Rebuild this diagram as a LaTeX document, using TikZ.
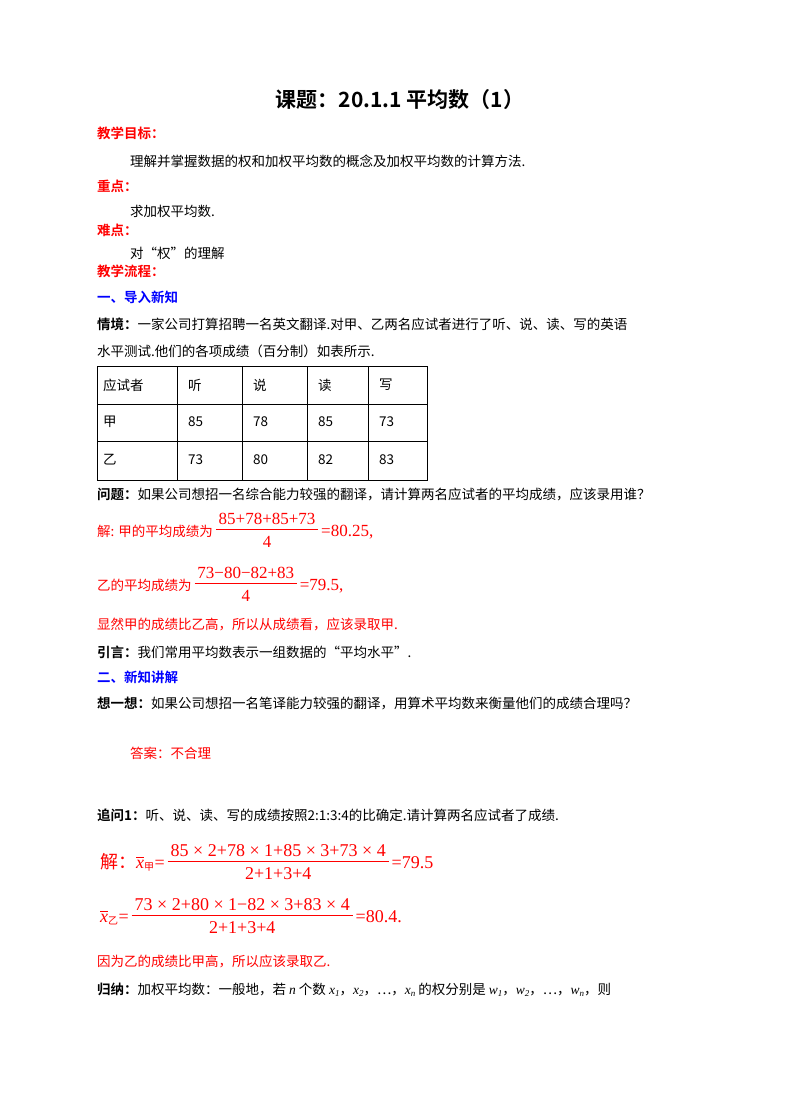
\documentclass[tikz,border=0pt]{standalone}
\usepackage{fontspec}
\setmainfont{Noto Sans CJK SC}[BoldFont={Noto Sans CJK SC Bold}]
\newfontfamily\ser{Liberation Serif}
\usepackage{amsmath}
\newcommand{\fr}[2]{\ensuremath{\,\vcenter{\hbox{\begin{tabular}{@{\,}c@{\,}}\ser #1\\[-1pt]\hline\rule{0pt}{18pt}\ser #2\end{tabular}}}\,}}
\newcommand{\vx}[1]{\ensuremath{\overline{\text{\ser\itshape x}}_{\text{\fontsize{10}{11}\selectfont #1}}}}
\newcommand{\vi}[2]{{\ser\itshape #1}\raisebox{-2pt}{\fontsize{9}{10}\selectfont\ser\itshape #2}}
\begin{document}
\begin{tikzpicture}[x=1pt,y=-1pt,
  t/.style={anchor=west,inner sep=0pt,font=\fontsize{13.5}{16}\selectfont},
  rd/.style={t,text=red},
  bl/.style={t,text=blue,font=\fontsize{13.5}{16}\selectfont\bfseries},
  hd/.style={t,text=red,font=\fontsize{13.5}{16}\selectfont\bfseries},
  cell/.style={t}]
\useasboundingbox (0,0) rectangle (800,1109);
\fill[white] (0,0) rectangle (800,1109);
\node[font=\fontsize{21}{24}\selectfont\bfseries] (title) at (400,100) {课题：20.1.1 平均数（1）};
\node[hd] (h1) at (97,133) {教学目标：};
\node[t] (l1) at (130,161) {理解并掌握数据的权和加权平均数的概念及加权平均数的计算方法.};
\node[hd] (h2) at (97,186) {重点：};
\node[t] (l2) at (130,211) {求加权平均数.};
\node[hd] (h3) at (97,230) {难点：};
\node[t] (l3) at (130,253) {对“权”的理解};
\node[hd] (h4) at (97,271) {教学流程：};
\node[bl] (s1) at (97,297) {一、导入新知};
\node[t] (q1) at (97,324) {\textbf{情境：}一家公司打算招聘一名英文翻译.对甲、乙两名应试者进行了听、说、读、写的英语};
\node[t] (q2) at (97,351) {水平测试.他们的各项成绩（百分制）如表所示.};
\draw (97,366) rectangle (427,480);
\foreach \y in {404,441} \draw (97,\y) -- (427,\y);
\foreach \x in {177,242,307,368} \draw (\x,366) -- (\x,480);
\node[cell] (c11) at (103,385) {应试者};
\node[cell] (c12) at (188,385) {听};
\node[cell] (c13) at (253,385) {说};
\node[cell] (c14) at (318,385) {读};
\node[cell] (c15) at (379,385) {写};
\node[cell] (c21) at (103,422) {甲};
\node[cell] (c22) at (188,422) {85};
\node[cell] (c23) at (253,422) {78};
\node[cell] (c24) at (318,422) {85};
\node[cell] (c25) at (379,422) {73};
\node[cell] (c31) at (103,460) {乙};
\node[cell] (c32) at (188,460) {73};
\node[cell] (c33) at (253,460) {80};
\node[cell] (c34) at (318,460) {82};
\node[cell] (c35) at (379,460) {83};
\node[t] (q3) at (97,494) {\textbf{问题：}如果公司想招一名综合能力较强的翻译，请计算两名应试者的平均成绩，应该录用谁？};
\node[rd] (a1) at (97,532) {解: 甲的平均成绩为{\fontsize{17}{19}\selectfont\fr{85+78+85+73}{4}\ser =80.25,}};
\node[rd] (a2) at (97,586) {乙的平均成绩为{\fontsize{17}{19}\selectfont\fr{73−80−82+83}{4}\ser =79.5,}};
\node[rd] (a3) at (97,624) {显然甲的成绩比乙高，所以从成绩看，应该录取甲.};
\node[t] (q4) at (97,652) {\textbf{引言：}我们常用平均数表示一组数据的“平均水平”.};
\node[bl] (s2) at (97,677) {二、新知讲解};
\node[t] (q5) at (97,703) {\textbf{想一想：}如果公司想招一名笔译能力较强的翻译，用算术平均数来衡量他们的成绩合理吗？};
\node[rd] (a4) at (130,753) {答案：不合理};
\node[t] (q6) at (97,815) {\textbf{追问1：}听、说、读、写的成绩按照2:1:3:4的比确定.请计算两名应试者了成绩.};
\node[rd,font=\fontsize{18}{20}\selectfont] (a5) at (100,864) {解：\vx{甲}{\ser =}\fr{85 × 2+78 × 1+85 × 3+73 × 4}{2+1+3+4}{\ser =79.5}};
\node[rd,font=\fontsize{18}{20}\selectfont] (a6) at (100,918) {\vx{乙}{\ser =}\fr{73 × 2+80 × 1−82 × 3+83 × 4}{2+1+3+4}{\ser =80.4.}};
\node[rd] (a7) at (97,961) {因为乙的成绩比甲高，所以应该录取乙.};
\node[t] (q7) at (97,990) {\textbf{归纳：}加权平均数：一般地，若 {\ser\itshape n} 个数 \vi{x}{1}，\vi{x}{2}，⋯，\vi{x}{n} 的权分别是 \vi{w}{1}，\vi{w}{2}，⋯，\vi{w}{n}，则};
\end{tikzpicture}
\end{document}
